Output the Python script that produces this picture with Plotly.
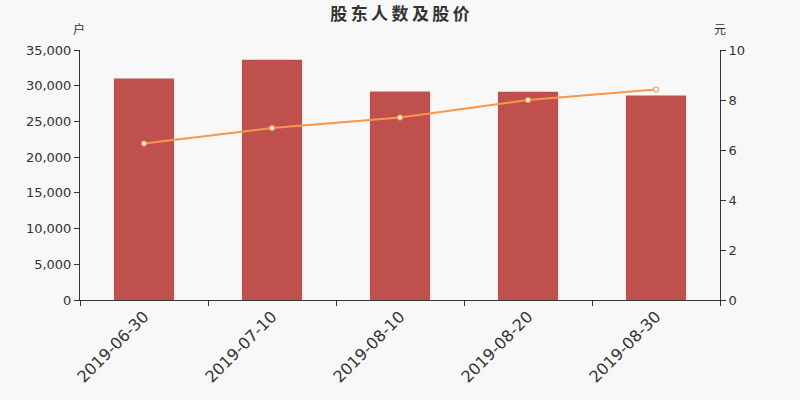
import plotly.graph_objects as go

categories = ["2019-06-30", "2019-07-10", "2019-08-10", "2019-08-20", "2019-08-30"]
holders = [31000, 33650, 29180, 29170, 28630]
price = [6.26, 6.88, 7.30, 8.00, 8.42]

font = "DejaVu Sans, Noto Sans CJK SC, sans-serif"
title_text = "\u2009".join("股东人数及股价")

fig = go.Figure()
fig.add_trace(go.Bar(x=categories, y=holders, marker=dict(color="#c0504d", line=dict(width=0)),
                     yaxis="y", name="户"))
fig.add_trace(go.Scatter(x=categories, y=price, yaxis="y2", mode="lines+markers",
                         line=dict(color="#f7974b", width=2),
                         marker=dict(symbol="circle", size=5, color="#ffffff",
                                     line=dict(color="#f7974b", width=1.2)),
                         name="元"))

fig.update_layout(
    width=800, height=400,
    paper_bgcolor="#f8f8f8", plot_bgcolor="#f8f8f8",
    margin=dict(l=80, r=80, t=50, b=100),
    showlegend=False,
    bargap=0.53,
    font=dict(family=font, color="#333333", size=12),
    title=dict(text=title_text, x=0.5, xanchor="center", y=1 - 14/400, yanchor="middle",
               font=dict(size=17, color="#333333", family="Noto Sans CJK SC, sans-serif", weight=600)),
    xaxis=dict(type="category", showline=True, linecolor="#333333", linewidth=1,
               ticks="outside", tickson="boundaries", ticklen=5, tickcolor="#333333",
               tickangle=-45, tickfont=dict(size=16, color="#333333"), showgrid=False,
               zeroline=False),
    yaxis=dict(range=[0, 35000], dtick=5000, tickformat=",d", showline=True, linecolor="#333333",
               ticks="outside", ticklen=5, tickcolor="#333333", showgrid=False, zeroline=False,
               tickfont=dict(size=13, color="#333333")),
    yaxis2=dict(range=[0, 10], dtick=2, overlaying="y", side="right", showline=True,
                linecolor="#333333", ticks="outside", ticklen=5, tickcolor="#333333",
                showgrid=False, zeroline=False, tickfont=dict(size=13, color="#333333")),
)
fig.add_annotation(text="户", xref="paper", yref="paper", x=-0.002, y=1.0 + 20/250, xanchor="center",
                   yanchor="middle", showarrow=False, font=dict(size=12, color="#333333"))
fig.add_annotation(text="元", xref="paper", yref="paper", x=1, y=1.0 + 20/250, xanchor="center",
                   yanchor="middle", showarrow=False, font=dict(size=12, color="#333333"))

fig.write_html("out.html", config={"displayModeBar": False},
               post_script="document.body.style.margin='0';document.body.style.background='#f8f8f8';")
